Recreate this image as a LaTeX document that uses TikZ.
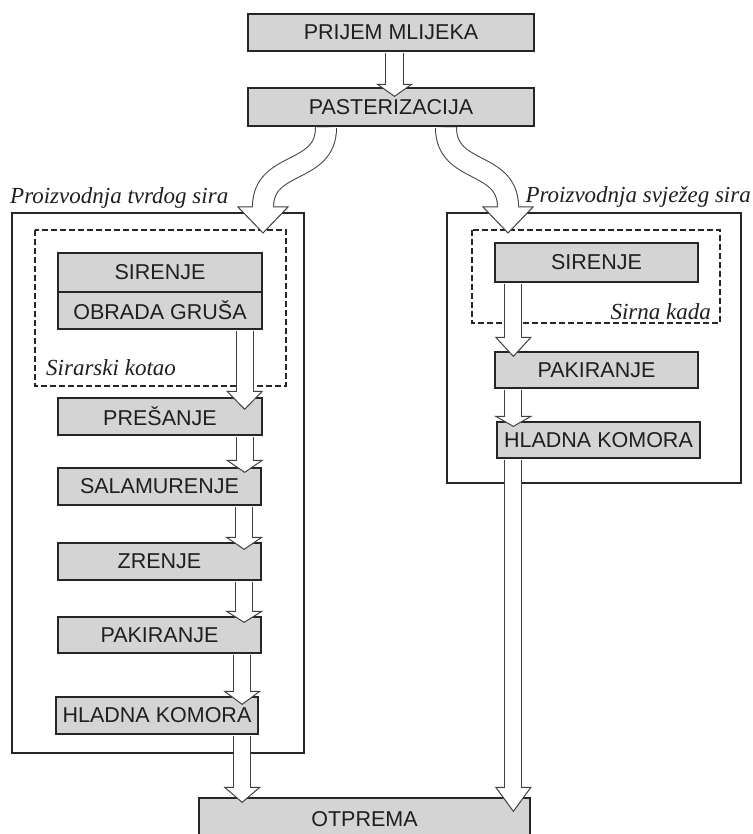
\documentclass[tikz,border=0pt]{standalone}
\usepackage{fontspec}
\setmainfont{Liberation Serif}
\setsansfont{Liberation Sans}
\usetikzlibrary{calc}
\definecolor{boxfill}{gray}{0.83}
\definecolor{arrdark}{gray}{0.25}
\definecolor{txt}{gray}{0.12}
% straight block arrow: #1 start, #2 target node, #3 tip depth into target, #4 shaft width, #5 head half width, #6 head length
\newcommand\fatarrow[6]{%
  \coordinate (fas) at #1;
  \coordinate (fat) at ($(fas |- #2.north)+(0,#3)$);
  \coordinate (fab) at ($(fat)+(0,-#6)$);
  \draw[line width=#4pt, arrdark] (fas) -- (fab);
  \filldraw[fill=white, draw=arrdark, line width=1pt, line join=miter]
    ($(fab)+(-#5,0)$) -- (fat) -- ($(fab)+(#5,0)$) -- cycle;
  \draw[line width=#4pt-2pt, white] (fas) -- ($(fab)+(0,1.5)$);
}
% curved block arrow: #1 start, #2 c1, #3 c2, #4 tip, #5 shaft width, #6 head half width, #7 head length
\newcommand\fatcurve[7]{%
  \coordinate (fcs) at #1;
  \coordinate (fct) at #4;
  \coordinate (fcb) at ($(fct)+(0,-#7)$);
  \draw[line width=#5pt, arrdark] (fcs) .. controls #2 and #3 .. (fcb);
  \filldraw[fill=white, draw=arrdark, line width=1pt, line join=miter]
    ($(fcb)+(-#6,0)$) -- (fct) -- ($(fcb)+(#6,0)$) -- cycle;
  \draw[line width=#5pt-2pt, white] (fcs) .. controls #2 and #3 .. (fcb) -- ($(fcb)+(0,1.5)$);
}
\tikzset{
  box/.style={draw=black!85, line width=1.3pt, fill=boxfill, inner sep=0pt,
    text=txt, font=\sffamily\fontsize{21.5}{25}\selectfont},
  frame/.style={draw=black!85, line width=1.2pt},
  dframe/.style={draw=black!85, line width=1.2pt, dash pattern=on 6pt off 3pt},
  lab/.style={inner sep=0pt, text=txt, font=\itshape\fontsize{23}{27}\selectfont}
}
\begin{document}
\begin{tikzpicture}[x=1pt,y=-1pt]
\useasboundingbox (0,0) rectangle (752,834);
\fill[white] (0,0) rectangle (752,834);

% frames
\draw[frame] (12,213) rectangle (304,753);
\draw[frame] (447,213) rectangle (741,483);
\draw[dframe] (35,230) rectangle (286,386);
\draw[dframe] (472,230) rectangle (720,323);

\node[lab, anchor=west] (ltitle) at (10,198) {Proizvodnja tvrdog sira};
\node[lab, anchor=east] (rtitle) at (751,197) {Proizvodnja svježeg sira};
\node[lab, anchor=west] (kotao) at (46,368) {Sirarski kotao};
\node[lab, anchor=east] (kada) at (711,312) {Sirna kada};

% boxes
\node[box, minimum width=286pt, minimum height=37pt] (prijem) at (391,32.5) {PRIJEM MLIJEKA};
\node[box, minimum width=286pt, minimum height=38pt] (past) at (391,107) {PASTERIZACIJA};

\node[box, minimum width=204pt, minimum height=39pt] (lsir) at (160,272.5) {SIRENJE};
\node[box, minimum width=204pt, minimum height=37pt] (obrada) at (160,310.5) {OBRADA GRUŠA};
\node[box, minimum width=204pt, minimum height=37pt] (pres) at (160,416.5) {PREŠANJE};
\node[box, minimum width=203pt, minimum height=37pt] (salam) at (159.5,486.5) {SALAMURENJE};
\node[box, minimum width=203pt, minimum height=37pt] (zrenje) at (159.5,561.5) {ZRENJE};
\node[box, minimum width=203pt, minimum height=36pt] (lpak) at (159.5,635) {PAKIRANJE};
\node[box, minimum width=202pt, minimum height=37pt] (lhlad) at (157,715.5) {HLADNA KOMORA};

\node[box, minimum width=203pt, minimum height=39pt] (rsir) at (596.5,262.5) {SIRENJE};
\node[box, minimum width=203pt, minimum height=36pt] (rpak) at (596.5,370) {PAKIRANJE};
\node[box, minimum width=203pt, minimum height=36pt] (rhlad) at (598.5,440) {HLADNA KOMORA};

\node[box, minimum width=331pt, minimum height=42pt] (otp) at (364.5,819) {OTPREMA};

% arrows
\fatarrow{($(prijem.south)+(3.5,1)$)}{past}{9}{19}{17}{12}
\fatcurve{($(past.south)+(-65,1)$)}{(326,175)}{(263,160)}{(263,233)}{22}{25}{26}
\fatcurve{($(past.south)+(55,1)$)}{(446,175)}{(508,160)}{(508,233)}{22}{25}{26}

\fatarrow{($(obrada.south east)+(-18,1)$)}{pres}{12}{18}{17.5}{18}
\fatarrow{($(pres.south east)+(-18,1)$)}{salam}{5}{18}{17.5}{12}
\fatarrow{($(salam.south east)+(-17.5,1)$)}{zrenje}{7}{18}{17.5}{12}
\fatarrow{($(zrenje.south east)+(-17.5,1)$)}{lpak}{6}{18}{17.5}{11}
\fatarrow{($(lpak.south east)+(-19.5,1)$)}{lhlad}{8}{18}{17.5}{13}
\fatarrow{($(lhlad.south east)+(-16.5,1)$)}{otp}{5}{18}{17.5}{15}

\fatarrow{($(rsir.south west)+(19,1)$)}{rpak}{5}{18}{17.5}{19}
\fatarrow{($(rpak.south west)+(19,1)$)}{rhlad}{5}{18}{17.5}{10}
\fatarrow{($(rhlad.south west)+(17,1)$)}{otp}{14}{18}{17.5}{24}
\end{tikzpicture}
\end{document}
